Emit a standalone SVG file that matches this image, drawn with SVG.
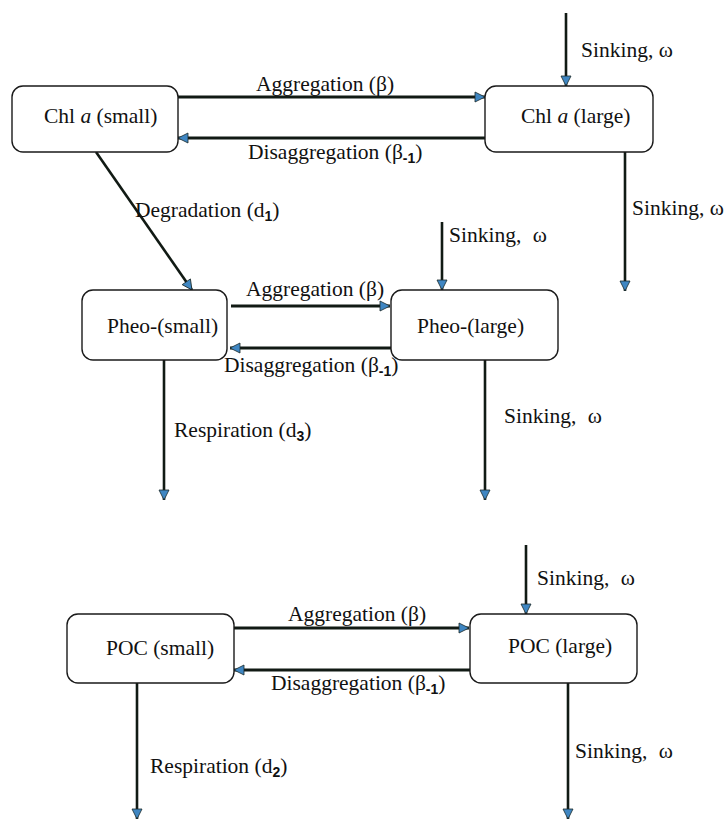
<svg xmlns="http://www.w3.org/2000/svg" width="724" height="820" viewBox="0 0 724 820">
<defs>
<marker id="ah" markerUnits="userSpaceOnUse" markerWidth="14" markerHeight="12" refX="11" refY="6" orient="auto">
<path d="M1,1 L11,6 L1,11 z" fill="#3f86c2" stroke="#1a2a2a" stroke-width="0.8"/>
</marker>
</defs>
<style>
.box{fill:#fff;stroke:#1a1a1a;stroke-width:1.4}
.t{font-family:"Liberation Serif","Times New Roman",serif;font-size:21.5px;fill:#111}
.sub{font-family:"Liberation Sans",Arial,sans-serif;font-size:14px;font-weight:bold}
.h{stroke:#111a14;stroke-width:3;fill:none;marker-end:url(#ah)}
.v{stroke:#111a14;stroke-width:2.6;fill:none;marker-end:url(#ah)}
</style>
<rect width="724" height="820" fill="#fff"/>
<g id="connectors">
<line class="v" x1="566" y1="13" x2="566" y2="86"/>
<line class="h" x1="178" y1="97" x2="485" y2="97"/>
<line class="h" x1="485" y1="138" x2="178" y2="138"/>
<line class="v" x1="625" y1="152" x2="625" y2="291"/>
<line class="v" x1="96" y1="152" x2="192" y2="290"/>
<line class="v" x1="442" y1="222" x2="442" y2="290"/>
<line class="h" x1="231" y1="306" x2="390" y2="306"/>
<line class="h" x1="391" y1="348" x2="230" y2="348"/>
<line class="v" x1="164" y1="360" x2="164" y2="500"/>
<line class="v" x1="485" y1="360" x2="485" y2="500"/>
<line class="v" x1="526" y1="545" x2="526" y2="614"/>
<line class="h" x1="234" y1="628" x2="469" y2="628"/>
<line class="h" x1="470" y1="670" x2="234" y2="670"/>
<line class="v" x1="137" y1="683" x2="137" y2="819"/>
<line class="v" x1="568" y1="683" x2="568" y2="819"/>
<text class="t" x="581" y="57">Sinking, ω</text>
<text class="t" x="256" y="91">Aggregation (β)</text>
<text class="t" x="248" y="159">Disaggregation (β<tspan class="sub" dy="4">-1</tspan><tspan dy="-4">)</tspan></text>
<text class="t" x="632" y="215">Sinking, ω</text>
<text class="t" x="135" y="217">Degradation (d<tspan class="sub" dy="4">1</tspan><tspan dy="-4">)</tspan></text>
<text class="t" x="449" y="242">Sinking, <tspan dx="6">ω</tspan></text>
<text class="t" x="246" y="296">Aggregation (β)</text>
<text class="t" x="224" y="372">Disaggregation (β<tspan class="sub" dy="4">-1</tspan><tspan dy="-4">)</tspan></text>
<text class="t" x="504" y="423">Sinking, <tspan dx="6">ω</tspan></text>
<text class="t" x="174" y="437">Respiration (d<tspan class="sub" dy="4">3</tspan><tspan dy="-4">)</tspan></text>
<text class="t" x="537" y="585">Sinking, <tspan dx="6">ω</tspan></text>
<text class="t" x="288" y="621">Aggregation (β)</text>
<text class="t" x="271" y="690">Disaggregation (β<tspan class="sub" dy="4">-1</tspan><tspan dy="-4">)</tspan></text>
<text class="t" x="575" y="758">Sinking, <tspan dx="6">ω</tspan></text>
<text class="t" x="150" y="773">Respiration (d<tspan class="sub" dy="4">2</tspan><tspan dy="-4">)</tspan></text>
</g>
<g id="chl-small">
<rect class="box" x="12" y="86" width="166" height="66" rx="11"/>
<text class="t" x="44" y="123">Chl <tspan font-style="italic">a</tspan> (small)</text>
</g>
<g id="chl-large">
<rect class="box" x="485" y="86" width="168" height="66" rx="11"/>
<text class="t" x="521" y="123">Chl <tspan font-style="italic">a</tspan> (large)</text>
</g>
<g id="pheo-small">
<rect class="box" x="82" y="290" width="145" height="70" rx="11"/>
<text class="t" x="107" y="333">Pheo-(small)</text>
</g>
<g id="pheo-large">
<rect class="box" x="391" y="290" width="167" height="70" rx="11"/>
<text class="t" x="417" y="333">Pheo-(large)</text>
</g>
<g id="poc-small">
<rect class="box" x="67" y="614" width="167" height="69" rx="11"/>
<text class="t" x="106" y="655">POC (small)</text>
</g>
<g id="poc-large">
<rect class="box" x="470" y="614" width="167" height="69" rx="11"/>
<text class="t" x="508" y="653">POC (large)</text>
</g>
</svg>
